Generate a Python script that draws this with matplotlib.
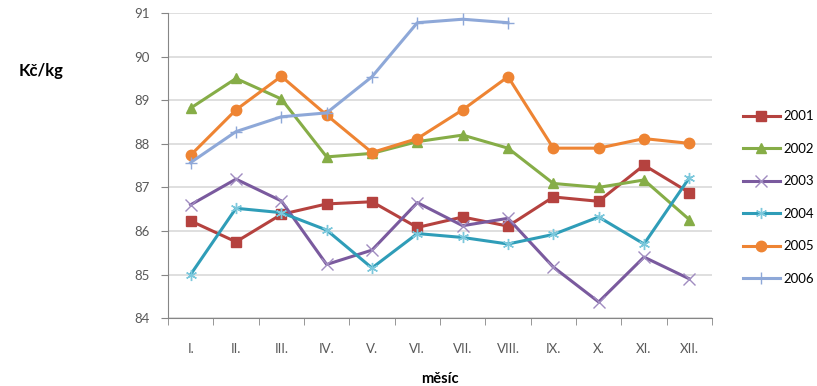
import matplotlib
matplotlib.use("Agg")
import matplotlib.pyplot as plt
import numpy as np

plt.rcParams['font.family'] = ['Lato', 'DejaVu Sans']

# monthly prices, Kc/kg
months = ["I.", "II.", "III.", "IV.", "V.", "VI.", "VII.", "VIII.", "IX.", "X.", "XI.", "XII."]
y2001 = [86.23, 85.75, 86.38, 86.62, 86.67, 86.08, 86.32, 86.11, 86.78, 86.68, 87.51, 86.88]
y2002 = [88.82, 89.50, 89.03, 87.70, 87.78, 88.05, 88.20, 87.90, 87.09, 87.00, 87.17, 86.26]
y2003 = [86.60, 87.19, 86.69, 85.23, 85.56, 86.65, 86.12, 86.29, 85.17, 84.37, 85.40, 84.90]
y2004 = [85.00, 86.52, 86.42, 86.02, 85.15, 85.94, 85.85, 85.70, 85.92, 86.32, 85.70, 87.22]
y2005 = [87.74, 88.78, 89.55, 88.66, 87.80, 88.12, 88.78, 89.54, 87.90, 87.90, 88.12, 88.01]
y2006 = [87.57, 88.28, 88.62, 88.71, 89.54, 90.78, 90.86, 90.78]

series = [
    ("2001", y2001, "#B5423F", "s", "#B5423F"),
    ("2002", y2002, "#86AD47", "^", "#86AD47"),
    ("2003", y2003, "#7A5A9E", "x", "#A08CC0"),
    ("2004", y2004, "#2F9DB8", (6, 2, 0), "#7CC8DC"),
    ("2005", y2005, "#EE8433", "o", "#EE8433"),
    ("2006", y2006, "#8EA8D8", "+", "#8EA8D8"),
]

fig = plt.figure(figsize=(8.17, 3.86), dpi=100)
ax = fig.add_axes([0.2056, 0.176, 0.6659, 0.790])

for name, vals, col, mk, mcol in series:
    x = np.arange(len(vals))
    ms = 8 if mk in ("x", "+", (6, 2, 0)) else 7.5
    ax.plot(x, vals, color=col, lw=2.2, marker=mk, markersize=ms,
            markerfacecolor=mcol, markeredgecolor=mcol, markeredgewidth=1.0, label=name)

ax.set_xlim(-0.5, 11.5)
ax.set_ylim(84, 91)
ax.set_yticks(range(84, 92))
ax.set_xticks(range(12))
ax.set_xticklabels(months)
ax.set_xticks(np.arange(-0.5, 12, 1), minor=True)
ax.tick_params(axis='x', which='major', length=0, pad=18, labelsize=9.5, colors='#595959')
ax.tick_params(axis='x', which='minor', length=5, color='#868686')
ax.tick_params(axis='y', length=5, color='#868686', labelsize=9.5, labelcolor='#595959', pad=8)
ax.grid(axis='y', color='#D9D9D9', lw=1.2)
ax.set_axisbelow(True)
for s in ('top', 'right'):
    ax.spines[s].set_visible(False)
for s in ('left', 'bottom'):
    ax.spines[s].set_color('#868686')

ax.set_xlabel("měsíc", fontsize=10.5, fontweight='bold', labelpad=12)
fig.text(0.05, 0.815, "Kč/kg", fontsize=12, fontweight='bold', ha='center', va='center')

ax.legend(loc='center left', bbox_to_anchor=(1.035, 0.395), frameon=False,
          handlelength=2.8, labelspacing=1.55, fontsize=9.5, handletextpad=0.3)

fig.savefig("out.png", dpi=100)
